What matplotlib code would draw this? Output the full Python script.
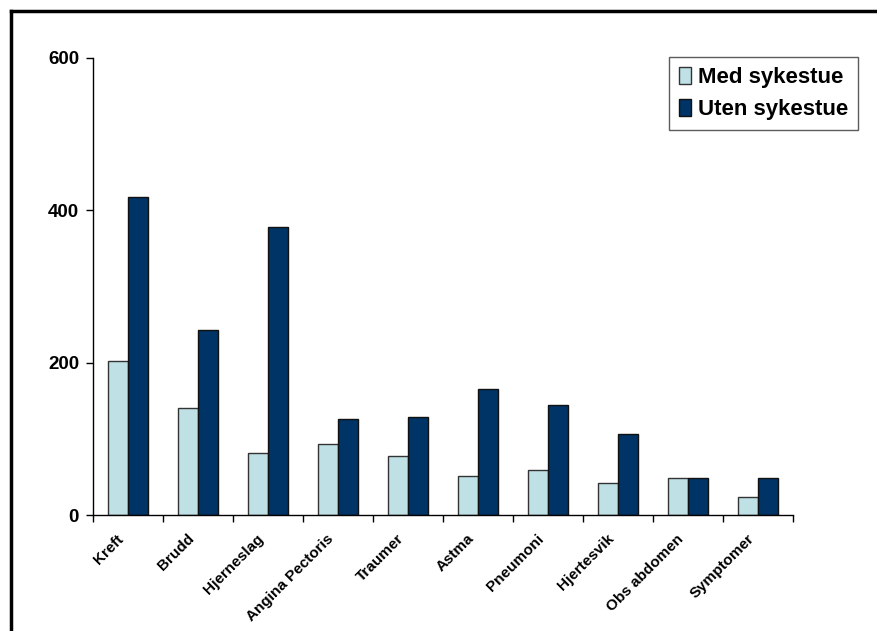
import numpy as np
import matplotlib
matplotlib.use("Agg")
import matplotlib.pyplot as plt
from matplotlib.lines import Line2D

plt.rcParams['font.family'] = ['Liberation Sans', 'DejaVu Sans']
plt.rcParams['font.weight'] = 'bold'

# Diagnoses and number of patients
categories = ['Kreft', 'Brudd', 'Hjerneslag', 'Angina Pectoris', 'Traumer',
              'Astma', 'Pneumoni', 'Hjertesvik', 'Obs abdomen', 'Symptomer']
med_sykestue = [202, 140, 82, 93, 78, 51, 59, 42, 48, 24]
uten_sykestue = [418, 243, 378, 126, 129, 166, 145, 106, 48, 49]

fig = plt.figure(figsize=(8.77, 6.31), dpi=100)
ax = fig.add_axes([93 / 877, 1 - 515 / 631, 700 / 877, 457 / 631])

x = np.arange(len(categories))
w = 0.286
ax.bar(x - w / 2, med_sykestue, w, color='#bfe1e6', edgecolor='#333333',
       linewidth=1.0, label='Med sykestue')
ax.bar(x + w / 2, uten_sykestue, w, color='#003366', edgecolor='#111111',
       linewidth=1.0, label='Uten sykestue')

ax.set_xlim(-0.5, len(categories) - 0.5)
ax.set_ylim(0, 600)
ax.set_yticks([0, 200, 400, 600])
ax.tick_params(axis='y', labelsize=13.5, length=5, width=1, pad=5)

# ticks sit between the groups, labels under each group
ax.set_xticks(np.arange(len(categories) + 1) - 0.5)
ax.set_xticklabels([])
ax.set_xticks(x - 0.16, minor=True)
ax.set_xticklabels(categories, minor=True, rotation=45, ha='right',
                   va='top', rotation_mode='anchor', fontsize=11)
ax.tick_params(axis='x', which='major', length=5, width=1)
ax.tick_params(axis='x', which='minor', length=0, pad=12)

for s in ['top', 'right']:
    ax.spines[s].set_visible(False)
for s in ['left', 'bottom']:
    ax.spines[s].set_linewidth(1.0)

leg = ax.legend(loc='upper right', bbox_to_anchor=(1.093, 1.003), fontsize=16,
                frameon=True, fancybox=False, edgecolor='#333333',
                handlelength=0.55, handleheight=0.8, handletextpad=0.3,
                borderpad=0.45, labelspacing=0.5, borderaxespad=0)
leg.get_frame().set_linewidth(1.0)

# outer frame lines along the top and left edge
fig.add_artist(Line2D([11 / 877, 1.0], [1 - 11 / 631, 1 - 11 / 631],
                      color='black', linewidth=2.5, transform=fig.transFigure))
fig.add_artist(Line2D([11 / 877, 11 / 877], [0.0, 1 - 11 / 631],
                      color='black', linewidth=2.5, transform=fig.transFigure))

fig.savefig('out.png', dpi=100)
